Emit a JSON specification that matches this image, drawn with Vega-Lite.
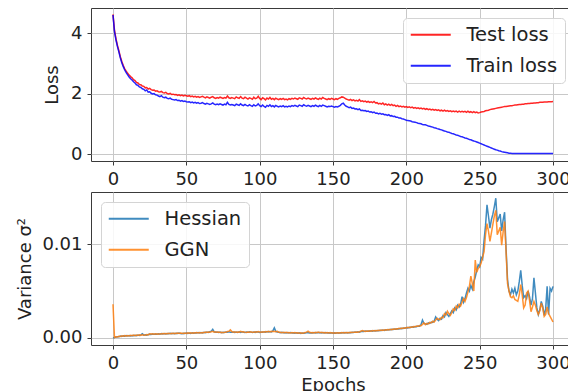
{
"$schema": "https://vega.github.io/schema/vega-lite/v6.json",
"padding": {"left": 16, "top": 7, "right": 0, "bottom": 0},
"config": {
  "font": "DejaVu Sans",
  "view": {"stroke": "#3a3a3a", "strokeWidth": 1},
  "axis": {"grid": true, "gridColor": "#c8c8c8", "gridWidth": 1, "domain": false, "tickColor": "#3a3a3a", "tickSize": 4, "tickWidth": 1, "labelFontSize": 18, "labelColor": "#222", "titleFontSize": 18, "titleFontWeight": "normal", "titleColor": "#222", "labelPadding": 5, "labelFlush": false},
  "legend": {"symbolType": "M-1.8,0H6.2", "symbolSize": 100, "symbolStrokeWidth": 2, "labelFontSize": 19.5, "labelColor": "#222", "padding": 7, "rowPadding": 10, "labelOffset": 37, "fillColor": "rgba(255,255,255,0.85)", "strokeColor": "#d4d4d4", "cornerRadius": 4}
},
"datasets": {"d": [
{"ep":0,"test":4.62,"train":4.60,"hess":0.0,"ggn":0.0036},
{"ep":1,"test":4.10,"train":4.05,"hess":0.00005,"ggn":0.00005},
{"ep":2,"test":3.82,"train":3.78,"hess":0.0001,"ggn":0.00012},
{"ep":3,"test":3.60,"train":3.56,"hess":0.00014,"ggn":0.0001},
{"ep":4,"test":3.42,"train":3.38,"hess":0.00012,"ggn":0.00018},
{"ep":5,"test":3.22,"train":3.18,"hess":0.0002,"ggn":0.00015},
{"ep":6,"test":3.06,"train":3.02,"hess":0.00016,"ggn":0.00022},
{"ep":7,"test":2.93,"train":2.89,"hess":0.00022,"ggn":0.00018},
{"ep":8,"test":2.82,"train":2.78,"hess":0.00018,"ggn":0.00025},
{"ep":9,"test":2.74,"train":2.69,"hess":0.00025,"ggn":0.0002},
{"ep":10,"test":2.67,"train":2.62,"hess":0.00021,"ggn":0.00027},
{"ep":11,"test":2.61,"train":2.55,"hess":0.00027,"ggn":0.00022},
{"ep":12,"test":2.56,"train":2.49,"hess":0.00022,"ggn":0.00028},
{"ep":13,"test":2.52,"train":2.45,"hess":0.00026,"ggn":0.00024},
{"ep":14,"test":2.46,"train":2.39,"hess":0.00024,"ggn":0.0003},
{"ep":15,"test":2.43,"train":2.35,"hess":0.00029,"ggn":0.00025},
{"ep":16,"test":2.37,"train":2.29,"hess":0.00025,"ggn":0.00031},
{"ep":17,"test":2.35,"train":2.27,"hess":0.00031,"ggn":0.00027},
{"ep":18,"test":2.30,"train":2.22,"hess":0.00027,"ggn":0.00033},
{"ep":19,"test":2.29,"train":2.20,"hess":0.00033,"ggn":0.00028},
{"ep":20,"test":2.25,"train":2.16,"hess":0.00045,"ggn":0.00035},
{"ep":21,"test":2.24,"train":2.14,"hess":0.0003,"ggn":0.00032},
{"ep":22,"test":2.19,"train":2.09,"hess":0.00034,"ggn":0.0003},
{"ep":23,"test":2.20,"train":2.12,"hess":0.0003,"ggn":0.00036},
{"ep":24,"test":2.15,"train":2.05,"hess":0.00036,"ggn":0.00033},
{"ep":25,"test":2.17,"train":2.06,"hess":0.0004,"ggn":0.00045},
{"ep":26,"test":2.13,"train":2.01,"hess":0.00038,"ggn":0.00042},
{"ep":27,"test":2.11,"train":1.99,"hess":0.00041,"ggn":0.00044},
{"ep":28,"test":2.12,"train":2.00,"hess":0.00039,"ggn":0.0004},
{"ep":29,"test":2.08,"train":1.96,"hess":0.00043,"ggn":0.00045},
{"ep":30,"test":2.09,"train":1.95,"hess":0.0004,"ggn":0.00042},
{"ep":31,"test":2.06,"train":1.92,"hess":0.00044,"ggn":0.00041},
{"ep":32,"test":2.05,"train":1.90,"hess":0.00041,"ggn":0.00046},
{"ep":33,"test":2.07,"train":1.93,"hess":0.00046,"ggn":0.00043},
{"ep":34,"test":2.03,"train":1.88,"hess":0.00042,"ggn":0.00047},
{"ep":35,"test":2.02,"train":1.86,"hess":0.00047,"ggn":0.00044},
{"ep":36,"test":2.04,"train":1.88,"hess":0.00043,"ggn":0.00048},
{"ep":37,"test":2.00,"train":1.84,"hess":0.00048,"ggn":0.00045},
{"ep":38,"test":1.99,"train":1.83,"hess":0.00044,"ggn":0.00049},
{"ep":39,"test":2.01,"train":1.85,"hess":0.00049,"ggn":0.00046},
{"ep":40,"test":1.97,"train":1.81,"hess":0.00045,"ggn":0.0005},
{"ep":41,"test":1.98,"train":1.80,"hess":0.0005,"ggn":0.00047},
{"ep":42,"test":1.96,"train":1.79,"hess":0.00046,"ggn":0.00051},
{"ep":43,"test":1.97,"train":1.80,"hess":0.00051,"ggn":0.00048},
{"ep":44,"test":1.94,"train":1.77,"hess":0.00047,"ggn":0.00052},
{"ep":45,"test":1.96,"train":1.78,"hess":0.00052,"ggn":0.00049},
{"ep":46,"test":1.93,"train":1.75,"hess":0.00048,"ggn":0.00053},
{"ep":47,"test":1.95,"train":1.77,"hess":0.00045,"ggn":0.0005},
{"ep":48,"test":1.92,"train":1.74,"hess":0.00051,"ggn":0.00047},
{"ep":49,"test":1.94,"train":1.75,"hess":0.00047,"ggn":0.00052},
{"ep":50,"test":1.93,"train":1.73,"hess":0.00052,"ggn":0.00048},
{"ep":51,"test":1.91,"train":1.72,"hess":0.00048,"ggn":0.00054},
{"ep":52,"test":1.93,"train":1.73,"hess":0.00053,"ggn":0.0005},
{"ep":53,"test":1.90,"train":1.70,"hess":0.00049,"ggn":0.00055},
{"ep":54,"test":1.92,"train":1.72,"hess":0.00055,"ggn":0.00051},
{"ep":55,"test":1.89,"train":1.69,"hess":0.0005,"ggn":0.00056},
{"ep":56,"test":1.91,"train":1.71,"hess":0.00056,"ggn":0.00052},
{"ep":57,"test":1.88,"train":1.68,"hess":0.00052,"ggn":0.00057},
{"ep":58,"test":1.90,"train":1.70,"hess":0.00057,"ggn":0.00053},
{"ep":59,"test":1.87,"train":1.67,"hess":0.00053,"ggn":0.00058},
{"ep":60,"test":1.89,"train":1.68,"hess":0.00058,"ggn":0.00054},
{"ep":61,"test":1.91,"train":1.70,"hess":0.00054,"ggn":0.00059},
{"ep":62,"test":1.88,"train":1.67,"hess":0.0006,"ggn":0.00056},
{"ep":63,"test":1.86,"train":1.65,"hess":0.00056,"ggn":0.00062},
{"ep":64,"test":1.89,"train":1.68,"hess":0.00062,"ggn":0.00058},
{"ep":65,"test":1.87,"train":1.66,"hess":0.00058,"ggn":0.00064},
{"ep":66,"test":1.85,"train":1.64,"hess":0.00066,"ggn":0.0006},
{"ep":67,"test":1.88,"train":1.66,"hess":0.00072,"ggn":0.00066},
{"ep":68,"test":1.90,"train":1.69,"hess":0.00092,"ggn":0.0007},
{"ep":69,"test":1.86,"train":1.65,"hess":0.00065,"ggn":0.00062},
{"ep":70,"test":1.84,"train":1.63,"hess":0.0006,"ggn":0.00066},
{"ep":71,"test":1.87,"train":1.65,"hess":0.00064,"ggn":0.0006},
{"ep":72,"test":1.85,"train":1.63,"hess":0.00058,"ggn":0.00063},
{"ep":73,"test":1.88,"train":1.66,"hess":0.00062,"ggn":0.00058},
{"ep":74,"test":1.86,"train":1.64,"hess":0.00057,"ggn":0.00061},
{"ep":75,"test":1.84,"train":1.62,"hess":0.00061,"ggn":0.00057},
{"ep":76,"test":1.87,"train":1.65,"hess":0.00058,"ggn":0.00062},
{"ep":77,"test":1.85,"train":1.63,"hess":0.00063,"ggn":0.0006},
{"ep":78,"test":1.92,"train":1.71,"hess":0.0006,"ggn":0.0007},
{"ep":79,"test":1.86,"train":1.64,"hess":0.00066,"ggn":0.00072},
{"ep":80,"test":1.84,"train":1.62,"hess":0.00062,"ggn":0.00086},
{"ep":81,"test":1.87,"train":1.64,"hess":0.0006,"ggn":0.00068},
{"ep":82,"test":1.85,"train":1.62,"hess":0.00064,"ggn":0.00062},
{"ep":83,"test":1.83,"train":1.60,"hess":0.00058,"ggn":0.00066},
{"ep":84,"test":1.89,"train":1.65,"hess":0.00063,"ggn":0.0006},
{"ep":85,"test":1.86,"train":1.63,"hess":0.00059,"ggn":0.00064},
{"ep":86,"test":1.84,"train":1.61,"hess":0.00065,"ggn":0.00061},
{"ep":87,"test":1.90,"train":1.66,"hess":0.0006,"ggn":0.0007},
{"ep":88,"test":1.85,"train":1.62,"hess":0.00066,"ggn":0.00063},
{"ep":89,"test":1.83,"train":1.60,"hess":0.00061,"ggn":0.00067},
{"ep":90,"test":1.88,"train":1.64,"hess":0.00058,"ggn":0.00062},
{"ep":91,"test":1.85,"train":1.61,"hess":0.00063,"ggn":0.00058},
{"ep":92,"test":1.82,"train":1.59,"hess":0.0006,"ggn":0.00064},
{"ep":93,"test":1.86,"train":1.63,"hess":0.00066,"ggn":0.00061},
{"ep":94,"test":1.84,"train":1.60,"hess":0.00062,"ggn":0.00066},
{"ep":95,"test":1.81,"train":1.58,"hess":0.00058,"ggn":0.00062},
{"ep":96,"test":1.88,"train":1.63,"hess":0.00064,"ggn":0.0006},
{"ep":97,"test":1.83,"train":1.59,"hess":0.0006,"ggn":0.00065},
{"ep":98,"test":1.85,"train":1.61,"hess":0.00067,"ggn":0.00062},
{"ep":99,"test":1.91,"train":1.66,"hess":0.00062,"ggn":0.00068},
{"ep":100,"test":1.84,"train":1.60,"hess":0.00058,"ggn":0.00064},
{"ep":101,"test":1.80,"train":1.57,"hess":0.00064,"ggn":0.0006},
{"ep":102,"test":1.86,"train":1.62,"hess":0.0006,"ggn":0.00066},
{"ep":103,"test":1.83,"train":1.58,"hess":0.00066,"ggn":0.00062},
{"ep":104,"test":1.79,"train":1.55,"hess":0.00062,"ggn":0.00068},
{"ep":105,"test":1.85,"train":1.61,"hess":0.00068,"ggn":0.00064},
{"ep":106,"test":1.82,"train":1.58,"hess":0.00063,"ggn":0.0007},
{"ep":107,"test":1.87,"train":1.63,"hess":0.00069,"ggn":0.00065},
{"ep":108,"test":1.81,"train":1.57,"hess":0.00065,"ggn":0.00071},
{"ep":109,"test":1.84,"train":1.60,"hess":0.00075,"ggn":0.00068},
{"ep":110,"test":1.80,"train":1.56,"hess":0.00108,"ggn":0.00072},
{"ep":111,"test":1.85,"train":1.61,"hess":0.0007,"ggn":0.00066},
{"ep":112,"test":1.82,"train":1.58,"hess":0.00064,"ggn":0.0007},
{"ep":113,"test":1.80,"train":1.56,"hess":0.0006,"ggn":0.00062},
{"ep":114,"test":1.83,"train":1.59,"hess":0.00056,"ggn":0.0006},
{"ep":115,"test":1.81,"train":1.57,"hess":0.0006,"ggn":0.00057},
{"ep":116,"test":1.84,"train":1.60,"hess":0.00055,"ggn":0.00061},
{"ep":117,"test":1.80,"train":1.56,"hess":0.00059,"ggn":0.00056},
{"ep":118,"test":1.82,"train":1.58,"hess":0.00054,"ggn":0.0006},
{"ep":119,"test":1.79,"train":1.56,"hess":0.00058,"ggn":0.00055},
{"ep":120,"test":1.83,"train":1.59,"hess":0.00053,"ggn":0.00059},
{"ep":121,"test":1.81,"train":1.57,"hess":0.00057,"ggn":0.00054},
{"ep":122,"test":1.84,"train":1.60,"hess":0.00052,"ggn":0.00058},
{"ep":123,"test":1.82,"train":1.58,"hess":0.00056,"ggn":0.00053},
{"ep":124,"test":1.85,"train":1.61,"hess":0.00051,"ggn":0.00057},
{"ep":125,"test":1.83,"train":1.59,"hess":0.00055,"ggn":0.00052},
{"ep":126,"test":1.81,"train":1.57,"hess":0.0005,"ggn":0.00056},
{"ep":127,"test":1.86,"train":1.62,"hess":0.00054,"ggn":0.00051},
{"ep":128,"test":1.84,"train":1.60,"hess":0.00049,"ggn":0.00055},
{"ep":129,"test":1.82,"train":1.58,"hess":0.00053,"ggn":0.0005},
{"ep":130,"test":1.87,"train":1.63,"hess":0.0005,"ggn":0.00054},
{"ep":131,"test":1.84,"train":1.60,"hess":0.00054,"ggn":0.00058},
{"ep":132,"test":1.82,"train":1.58,"hess":0.00058,"ggn":0.00062},
{"ep":133,"test":1.85,"train":1.61,"hess":0.00055,"ggn":0.00072},
{"ep":134,"test":1.83,"train":1.59,"hess":0.00052,"ggn":0.0006},
{"ep":135,"test":1.81,"train":1.57,"hess":0.00056,"ggn":0.00055},
{"ep":136,"test":1.84,"train":1.60,"hess":0.00053,"ggn":0.00059},
{"ep":137,"test":1.82,"train":1.58,"hess":0.00057,"ggn":0.00054},
{"ep":138,"test":1.86,"train":1.62,"hess":0.00054,"ggn":0.0006},
{"ep":139,"test":1.83,"train":1.59,"hess":0.00058,"ggn":0.00055},
{"ep":140,"test":1.81,"train":1.57,"hess":0.00055,"ggn":0.00062},
{"ep":141,"test":1.85,"train":1.61,"hess":0.00059,"ggn":0.00056},
{"ep":142,"test":1.82,"train":1.58,"hess":0.00054,"ggn":0.0006},
{"ep":143,"test":1.87,"train":1.62,"hess":0.00058,"ggn":0.00055},
{"ep":144,"test":1.84,"train":1.60,"hess":0.00053,"ggn":0.00059},
{"ep":145,"test":1.82,"train":1.58,"hess":0.00057,"ggn":0.00054},
{"ep":146,"test":1.80,"train":1.56,"hess":0.00052,"ggn":0.00058},
{"ep":147,"test":1.83,"train":1.58,"hess":0.00056,"ggn":0.00053},
{"ep":148,"test":1.81,"train":1.57,"hess":0.00051,"ggn":0.00057},
{"ep":149,"test":1.84,"train":1.59,"hess":0.00055,"ggn":0.00052},
{"ep":150,"test":1.82,"train":1.57,"hess":0.0005,"ggn":0.00056},
{"ep":151,"test":1.80,"train":1.55,"hess":0.00054,"ggn":0.00051},
{"ep":152,"test":1.83,"train":1.57,"hess":0.0005,"ggn":0.00055},
{"ep":153,"test":1.81,"train":1.56,"hess":0.00055,"ggn":0.00052},
{"ep":154,"test":1.84,"train":1.58,"hess":0.00051,"ggn":0.00056},
{"ep":155,"test":1.86,"train":1.61,"hess":0.00056,"ggn":0.00053},
{"ep":156,"test":1.89,"train":1.66,"hess":0.00052,"ggn":0.00057},
{"ep":157,"test":1.88,"train":1.68,"hess":0.00057,"ggn":0.00054},
{"ep":158,"test":1.85,"train":1.62,"hess":0.00053,"ggn":0.00058},
{"ep":159,"test":1.82,"train":1.58,"hess":0.00058,"ggn":0.00055},
{"ep":160,"test":1.80,"train":1.56,"hess":0.00054,"ggn":0.00059},
{"ep":161,"test":1.78,"train":1.53,"hess":0.00059,"ggn":0.00056},
{"ep":162,"test":1.81,"train":1.55,"hess":0.00056,"ggn":0.0006},
{"ep":163,"test":1.77,"train":1.51,"hess":0.00061,"ggn":0.00058},
{"ep":164,"test":1.79,"train":1.52,"hess":0.00058,"ggn":0.00062},
{"ep":165,"test":1.76,"train":1.49,"hess":0.00063,"ggn":0.0006},
{"ep":166,"test":1.78,"train":1.50,"hess":0.0006,"ggn":0.00064},
{"ep":167,"test":1.75,"train":1.47,"hess":0.00065,"ggn":0.00062},
{"ep":168,"test":1.80,"train":1.49,"hess":0.00062,"ggn":0.00066},
{"ep":169,"test":1.74,"train":1.44,"hess":0.00068,"ggn":0.00072},
{"ep":170,"test":1.76,"train":1.45,"hess":0.00072,"ggn":0.00078},
{"ep":171,"test":1.73,"train":1.43,"hess":0.0007,"ggn":0.00074},
{"ep":172,"test":1.75,"train":1.44,"hess":0.00074,"ggn":0.0007},
{"ep":173,"test":1.72,"train":1.41,"hess":0.00071,"ggn":0.00075},
{"ep":174,"test":1.74,"train":1.42,"hess":0.00075,"ggn":0.00072},
{"ep":175,"test":1.71,"train":1.39,"hess":0.00072,"ggn":0.00076},
{"ep":176,"test":1.73,"train":1.40,"hess":0.00076,"ggn":0.00073},
{"ep":177,"test":1.70,"train":1.37,"hess":0.00073,"ggn":0.00078},
{"ep":178,"test":1.74,"train":1.39,"hess":0.00078,"ggn":0.00074},
{"ep":179,"test":1.69,"train":1.35,"hess":0.00075,"ggn":0.0008},
{"ep":180,"test":1.70,"train":1.36,"hess":0.0008,"ggn":0.00077},
{"ep":181,"test":1.66,"train":1.33,"hess":0.00077,"ggn":0.00082},
{"ep":182,"test":1.68,"train":1.35,"hess":0.00082,"ggn":0.00079},
{"ep":183,"test":1.65,"train":1.32,"hess":0.00079,"ggn":0.00085},
{"ep":184,"test":1.69,"train":1.33,"hess":0.00084,"ggn":0.0008},
{"ep":185,"test":1.63,"train":1.30,"hess":0.00081,"ggn":0.00087},
{"ep":186,"test":1.66,"train":1.31,"hess":0.00087,"ggn":0.00083},
{"ep":187,"test":1.62,"train":1.28,"hess":0.00084,"ggn":0.0009},
{"ep":188,"test":1.65,"train":1.30,"hess":0.0009,"ggn":0.00086},
{"ep":189,"test":1.61,"train":1.26,"hess":0.00087,"ggn":0.00092},
{"ep":190,"test":1.64,"train":1.27,"hess":0.00093,"ggn":0.00089},
{"ep":191,"test":1.60,"train":1.24,"hess":0.0009,"ggn":0.00096},
{"ep":192,"test":1.62,"train":1.25,"hess":0.00096,"ggn":0.00092},
{"ep":193,"test":1.58,"train":1.22,"hess":0.00093,"ggn":0.00098},
{"ep":194,"test":1.61,"train":1.22,"hess":0.00099,"ggn":0.00095},
{"ep":195,"test":1.57,"train":1.19,"hess":0.00096,"ggn":0.00102},
{"ep":196,"test":1.59,"train":1.19,"hess":0.00102,"ggn":0.00098},
{"ep":197,"test":1.56,"train":1.17,"hess":0.00099,"ggn":0.00105},
{"ep":198,"test":1.58,"train":1.16,"hess":0.00106,"ggn":0.00102},
{"ep":199,"test":1.55,"train":1.14,"hess":0.00103,"ggn":0.00109},
{"ep":200,"test":1.57,"train":1.12,"hess":0.0011,"ggn":0.00106},
{"ep":201,"test":1.54,"train":1.11,"hess":0.00107,"ggn":0.00113},
{"ep":202,"test":1.56,"train":1.10,"hess":0.00114,"ggn":0.0011},
{"ep":203,"test":1.53,"train":1.09,"hess":0.00111,"ggn":0.00117},
{"ep":204,"test":1.55,"train":1.07,"hess":0.00118,"ggn":0.00114},
{"ep":205,"test":1.52,"train":1.06,"hess":0.00115,"ggn":0.00122},
{"ep":206,"test":1.54,"train":1.05,"hess":0.00123,"ggn":0.00119},
{"ep":207,"test":1.51,"train":1.04,"hess":0.0012,"ggn":0.00127},
{"ep":208,"test":1.53,"train":1.02,"hess":0.00128,"ggn":0.00124},
{"ep":209,"test":1.50,"train":1.01,"hess":0.00125,"ggn":0.00132},
{"ep":210,"test":1.52,"train":1.00,"hess":0.0014,"ggn":0.0013},
{"ep":211,"test":1.49,"train":0.98,"hess":0.0019,"ggn":0.00145},
{"ep":212,"test":1.51,"train":0.97,"hess":0.00155,"ggn":0.0016},
{"ep":213,"test":1.48,"train":0.97,"hess":0.0015,"ggn":0.00142},
{"ep":214,"test":1.50,"train":0.95,"hess":0.00145,"ggn":0.00155},
{"ep":215,"test":1.47,"train":0.93,"hess":0.0016,"ggn":0.0015},
{"ep":216,"test":1.49,"train":0.92,"hess":0.00155,"ggn":0.00166},
{"ep":217,"test":1.46,"train":0.90,"hess":0.0017,"ggn":0.0016},
{"ep":218,"test":1.48,"train":0.89,"hess":0.00165,"ggn":0.00178},
{"ep":219,"test":1.45,"train":0.87,"hess":0.0018,"ggn":0.0017},
{"ep":220,"test":1.47,"train":0.86,"hess":0.00225,"ggn":0.0019},
{"ep":221,"test":1.44,"train":0.84,"hess":0.002,"ggn":0.0021},
{"ep":222,"test":1.46,"train":0.83,"hess":0.00185,"ggn":0.002},
{"ep":223,"test":1.43,"train":0.81,"hess":0.0021,"ggn":0.00195},
{"ep":224,"test":1.45,"train":0.80,"hess":0.002,"ggn":0.0022},
{"ep":225,"test":1.42,"train":0.78,"hess":0.0024,"ggn":0.00215},
{"ep":226,"test":1.45,"train":0.76,"hess":0.00225,"ggn":0.0026},
{"ep":227,"test":1.42,"train":0.75,"hess":0.0027,"ggn":0.00245},
{"ep":228,"test":1.44,"train":0.73,"hess":0.0025,"ggn":0.00285},
{"ep":229,"test":1.41,"train":0.72,"hess":0.0023,"ggn":0.0026},
{"ep":230,"test":1.43,"train":0.70,"hess":0.0026,"ggn":0.0024},
{"ep":231,"test":1.40,"train":0.68,"hess":0.0029,"ggn":0.0027},
{"ep":232,"test":1.42,"train":0.67,"hess":0.0027,"ggn":0.0031},
{"ep":233,"test":1.40,"train":0.65,"hess":0.0032,"ggn":0.00295},
{"ep":234,"test":1.42,"train":0.63,"hess":0.003,"ggn":0.0034},
{"ep":235,"test":1.39,"train":0.62,"hess":0.0035,"ggn":0.0032},
{"ep":236,"test":1.42,"train":0.60,"hess":0.0033,"ggn":0.0036},
{"ep":237,"test":1.39,"train":0.58,"hess":0.0036,"ggn":0.0034},
{"ep":238,"test":1.41,"train":0.57,"hess":0.0044,"ggn":0.0038},
{"ep":239,"test":1.39,"train":0.55,"hess":0.0038,"ggn":0.0042},
{"ep":240,"test":1.41,"train":0.53,"hess":0.0042,"ggn":0.0039},
{"ep":241,"test":1.38,"train":0.52,"hess":0.0048,"ggn":0.0043},
{"ep":242,"test":1.42,"train":0.50,"hess":0.0053,"ggn":0.0049},
{"ep":243,"test":1.38,"train":0.48,"hess":0.005,"ggn":0.0055},
{"ep":244,"test":1.40,"train":0.47,"hess":0.0056,"ggn":0.0066},
{"ep":245,"test":1.37,"train":0.45,"hess":0.0052,"ggn":0.0058},
{"ep":246,"test":1.40,"train":0.43,"hess":0.006,"ggn":0.005},
{"ep":247,"test":1.37,"train":0.42,"hess":0.0065,"ggn":0.0083},
{"ep":248,"test":1.39,"train":0.40,"hess":0.0072,"ggn":0.007},
{"ep":249,"test":1.36,"train":0.38,"hess":0.0078,"ggn":0.0074},
{"ep":250,"test":1.37,"train":0.36,"hess":0.0076,"ggn":0.0076},
{"ep":251,"test":1.39,"train":0.34,"hess":0.0086,"ggn":0.008},
{"ep":252,"test":1.40,"train":0.32,"hess":0.0084,"ggn":0.0086},
{"ep":253,"test":1.41,"train":0.30,"hess":0.0104,"ggn":0.0092},
{"ep":254,"test":1.43,"train":0.28,"hess":0.012,"ggn":0.011},
{"ep":255,"test":1.44,"train":0.26,"hess":0.0142,"ggn":0.0122},
{"ep":256,"test":1.45,"train":0.24,"hess":0.013,"ggn":0.0114},
{"ep":257,"test":1.47,"train":0.22,"hess":0.0117,"ggn":0.0103},
{"ep":258,"test":1.48,"train":0.20,"hess":0.0126,"ggn":0.0112},
{"ep":259,"test":1.49,"train":0.18,"hess":0.0132,"ggn":0.0121},
{"ep":260,"test":1.50,"train":0.16,"hess":0.014,"ggn":0.013},
{"ep":261,"test":1.51,"train":0.14,"hess":0.0149,"ggn":0.0136},
{"ep":262,"test":1.52,"train":0.13,"hess":0.0124,"ggn":0.011},
{"ep":263,"test":1.53,"train":0.11,"hess":0.0128,"ggn":0.0114},
{"ep":264,"test":1.54,"train":0.10,"hess":0.0132,"ggn":0.0118},
{"ep":265,"test":1.55,"train":0.08,"hess":0.0114,"ggn":0.0099},
{"ep":266,"test":1.56,"train":0.07,"hess":0.0126,"ggn":0.0113},
{"ep":267,"test":1.57,"train":0.06,"hess":0.0134,"ggn":0.0124},
{"ep":268,"test":1.57,"train":0.05,"hess":0.0095,"ggn":0.0092},
{"ep":269,"test":1.58,"train":0.04,"hess":0.0062,"ggn":0.0058},
{"ep":270,"test":1.59,"train":0.03,"hess":0.005,"ggn":0.005},
{"ep":271,"test":1.60,"train":0.03,"hess":0.0046,"ggn":0.0044},
{"ep":272,"test":1.60,"train":0.02,"hess":0.0052,"ggn":0.0043},
{"ep":273,"test":1.61,"train":0.02,"hess":0.0048,"ggn":0.0045},
{"ep":274,"test":1.62,"train":0.02,"hess":0.0053,"ggn":0.0041},
{"ep":275,"test":1.62,"train":0.02,"hess":0.0046,"ggn":0.004},
{"ep":276,"test":1.63,"train":0.02,"hess":0.005,"ggn":0.0039},
{"ep":277,"test":1.64,"train":0.02,"hess":0.006,"ggn":0.0046},
{"ep":278,"test":1.64,"train":0.02,"hess":0.0072,"ggn":0.0057},
{"ep":279,"test":1.65,"train":0.02,"hess":0.0056,"ggn":0.0046},
{"ep":280,"test":1.65,"train":0.02,"hess":0.0043,"ggn":0.0032},
{"ep":281,"test":1.66,"train":0.02,"hess":0.0045,"ggn":0.0035},
{"ep":282,"test":1.66,"train":0.02,"hess":0.0042,"ggn":0.0048},
{"ep":283,"test":1.67,"train":0.02,"hess":0.005,"ggn":0.005},
{"ep":284,"test":1.67,"train":0.02,"hess":0.0044,"ggn":0.004},
{"ep":285,"test":1.68,"train":0.02,"hess":0.0035,"ggn":0.0028},
{"ep":286,"test":1.68,"train":0.02,"hess":0.0042,"ggn":0.0033},
{"ep":287,"test":1.69,"train":0.02,"hess":0.0064,"ggn":0.0039},
{"ep":288,"test":1.69,"train":0.02,"hess":0.0048,"ggn":0.0035},
{"ep":289,"test":1.70,"train":0.02,"hess":0.0032,"ggn":0.0029},
{"ep":290,"test":1.70,"train":0.02,"hess":0.0025,"ggn":0.0025},
{"ep":291,"test":1.71,"train":0.02,"hess":0.003,"ggn":0.0029},
{"ep":292,"test":1.71,"train":0.02,"hess":0.0039,"ggn":0.0037},
{"ep":293,"test":1.71,"train":0.02,"hess":0.0034,"ggn":0.0032},
{"ep":294,"test":1.72,"train":0.02,"hess":0.0024,"ggn":0.0023},
{"ep":295,"test":1.72,"train":0.02,"hess":0.0031,"ggn":0.0025},
{"ep":296,"test":1.72,"train":0.02,"hess":0.0055,"ggn":0.0033},
{"ep":297,"test":1.73,"train":0.02,"hess":0.0025,"ggn":0.0026},
{"ep":298,"test":1.73,"train":0.02,"hess":0.0053,"ggn":0.0023},
{"ep":299,"test":1.73,"train":0.02,"hess":0.005,"ggn":0.002},
{"ep":300,"test":1.74,"train":0.02,"hess":0.0055,"ggn":0.0017}
]},
"data": {"name": "d"},
"bounds": "flush",
"spacing": 31,
"resolve": {"scale": {"color": "independent", "y": "independent"}, "legend": {"color": "independent"}},
"vconcat": [
  {
    "width": 484, "height": 153,
    "transform": [{"fold": ["test", "train"], "as": ["k", "v"]}],
    "mark": {"type": "line", "strokeWidth": 1.5, "opacity": 0.85},
    "encoding": {
      "x": {"field": "ep", "type": "quantitative", "scale": {"domain": [-15, 315], "nice": false, "zero": false}, "axis": {"values": [0, 50, 100, 150, 200, 250, 300], "title": null}},
      "y": {"field": "v", "type": "quantitative", "scale": {"domain": [-0.23, 4.83], "nice": false, "zero": false}, "axis": {"values": [0, 2, 4], "format": "d", "title": "Loss", "titlePadding": 9}},
      "color": {"field": "k", "type": "nominal", "scale": {"domain": ["test", "train"], "range": ["#ff0000", "#0000ff"]}, "legend": {"orient": "top-right", "offset": 10, "title": null, "labelExpr": "datum.label == 'test' ? 'Test loss' : 'Train loss'"}}
    }
  },
  {
    "width": 484, "height": 153,
    "transform": [{"fold": ["hess", "ggn"], "as": ["k", "v"]}],
    "mark": {"type": "line", "strokeWidth": 1.5, "opacity": 0.85},
    "encoding": {
      "x": {"field": "ep", "type": "quantitative", "scale": {"domain": [-15, 315], "nice": false, "zero": false}, "axis": {"values": [0, 50, 100, 150, 200, 250, 300], "title": "Epochs", "titlePadding": 4}},
      "y": {"field": "v", "type": "quantitative", "scale": {"domain": [-0.00075, 0.01556], "nice": false, "zero": false}, "axis": {"values": [0, 0.01], "format": ".2f", "title": "Variance σ²", "titlePadding": 7}},
      "color": {"field": "k", "type": "nominal", "scale": {"domain": ["hess", "ggn"], "range": ["#1f77b4", "#ff7f0e"]}, "legend": {"orient": "top-left", "offset": 10, "title": null, "labelExpr": "datum.label == 'hess' ? 'Hessian' : 'GGN'"}}
    }
  }
]
}
